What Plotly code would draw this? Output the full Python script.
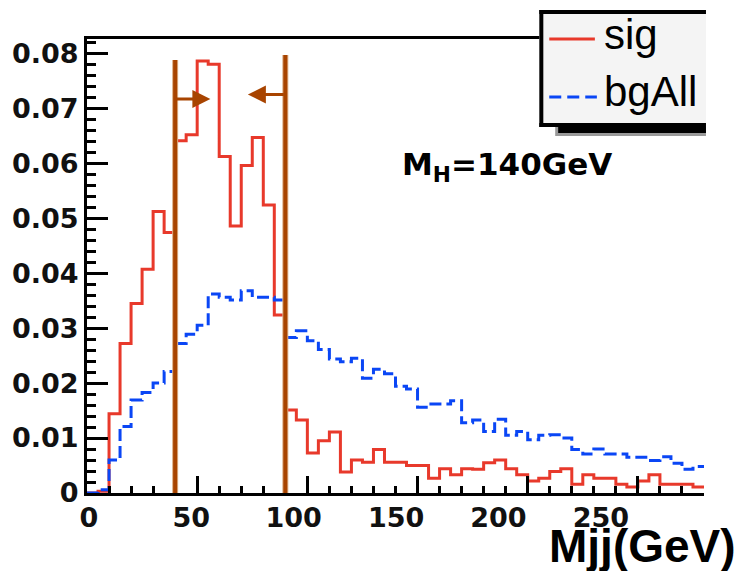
import plotly.graph_objects as go

# ---- data (bin width 5 GeV, 0..280) ----
bin_edges = [5 * i for i in range(57)]
sig = [0.0, 0.0003, 0.0144, 0.0272, 0.0345, 0.0407, 0.0512, 0.0474,
       0.0641, 0.0652, 0.0786, 0.0780, 0.0612, 0.0486, 0.0596, 0.0647,
       0.0524, 0.0324, 0.0151, 0.0133, 0.0073, 0.0095, 0.0111, 0.0038,
       0.0060, 0.0056, 0.0079, 0.0056, 0.0056, 0.0050, 0.0050, 0.0027,
       0.0044, 0.0033, 0.0044, 0.0043, 0.0055, 0.0060, 0.0044, 0.0033,
       0.0022, 0.0027, 0.0039, 0.0044, 0.0016, 0.0033, 0.0027, 0.0027,
       0.0016, 0.0011, 0.0022, 0.0033, 0.0016, 0.0016, 0.0016, 0.0011]
bgAll = [0.0, 0.0006, 0.0060, 0.0121, 0.0169, 0.0183, 0.0200, 0.0221,
         0.0272, 0.0289, 0.0305, 0.0362, 0.0356, 0.0351, 0.0368, 0.0356,
         0.0356, 0.0351, 0.0283, 0.0295, 0.0277, 0.0261, 0.0244, 0.0239,
         0.0245, 0.0209, 0.0225, 0.0217, 0.0194, 0.0189, 0.0156, 0.0162,
         0.0162, 0.0168, 0.0128, 0.0133, 0.0112, 0.0134, 0.0105, 0.0112,
         0.0097, 0.0105, 0.0106, 0.0100, 0.0079, 0.0071, 0.0080, 0.0071,
         0.0071, 0.0065, 0.0065, 0.0059, 0.0066, 0.0054, 0.0043, 0.0048]
cut_x = [40, 90]
cut_top = [0.0788, 0.0797]
arrow_y = [0.0717, 0.0725]
arrow_tip = [56, 73]
x_ticks = [0, 50, 100, 150, 200, 250]
y_ticks = [0, 0.01, 0.02, 0.03, 0.04, 0.05, 0.06, 0.07, 0.08]

RED = '#e8392b'
BLUE = '#0a46f5'
BROWN = '#a84400'

# plot-area pixel geometry
L, R, T, B = 82, 704, 39, 493
W, H = 740, 571


def px(xp):
    return (xp - L) / (R - L)


def py(yp):
    return (B - yp) / (B - T)


fig = go.Figure()
fig.add_trace(go.Scatter(x=bin_edges, y=sig + [sig[-1]], mode='lines',
                         line=dict(color=RED, width=3, shape='hv'),
                         name='sig', showlegend=False))
fig.add_trace(go.Scatter(x=bin_edges, y=bgAll + [bgAll[-1]], mode='lines',
                         line=dict(color=BLUE, width=3, shape='hv', dash='12px,5px'),
                         name='bgAll', showlegend=False))
# invisible carrier for the (slightly compressed) tick-label scale of the original
fig.add_trace(go.Scatter(x=x_ticks, y=[0] * len(x_ticks), xaxis='x2', mode='markers',
                         marker=dict(opacity=0), hoverinfo='skip', showlegend=False))

shapes = []
for cx, ct in zip(cut_x, cut_top):
    shapes.append(dict(type='line', xref='x', yref='y', x0=cx, x1=cx, y0=0, y1=ct,
                       line=dict(color='#dcae84', width=6)))
    shapes.append(dict(type='line', xref='x', yref='y', x0=cx, x1=cx, y0=0, y1=ct,
                       line=dict(color=BROWN, width=4)))

# legend box (ROOT style with shadow)
shapes += [
    dict(type='rect', xref='paper', yref='paper', x0=px(554), x1=px(706),
         y0=py(136), y1=py(125), fillcolor='#999999', line=dict(width=0)),
    dict(type='rect', xref='paper', yref='paper', x0=px(557), x1=px(706),
         y0=py(133), y1=py(125), fillcolor='black', line=dict(width=0)),
    dict(type='rect', xref='paper', yref='paper', x0=px(538), x1=px(706),
         y0=py(127), y1=py(10), fillcolor='#f4f4f4', line=dict(width=0)),
    dict(type='line', xref='paper', yref='paper', x0=px(540), x1=px(540),
         y0=py(127), y1=py(10), line=dict(color='black', width=4)),
    dict(type='line', xref='paper', yref='paper', x0=px(538), x1=px(706),
         y0=py(12), y1=py(12), line=dict(color='black', width=4)),
    dict(type='line', xref='paper', yref='paper', x0=px(538), x1=px(706),
         y0=py(125), y1=py(125), line=dict(color='black', width=4)),
    dict(type='line', xref='paper', yref='paper', x0=px(548), x1=px(594),
         y0=py(39), y1=py(39), line=dict(color=RED, width=3)),
    dict(type='line', xref='paper', yref='paper', x0=px(548), x1=px(596),
         y0=py(97), y1=py(97), line=dict(color=BLUE, width=3, dash='12px,6px')),
]

annotations = []
for cx, ay_, tip in zip(cut_x, arrow_y, arrow_tip):
    annotations.append(dict(x=tip, y=ay_, ax=cx, ay=ay_, xref='x', yref='y',
                            axref='x', ayref='y', text='', showarrow=True,
                            arrowhead=2, arrowsize=1.2, arrowwidth=3,
                            arrowcolor=BROWN, standoff=0, startstandoff=0))
annotations += [
    dict(xref='paper', yref='paper', x=px(601), y=py(34), text='sig',
         showarrow=False, xanchor='left', yanchor='middle',
         font=dict(family='Liberation Sans', size=42, color='black')),
    dict(xref='paper', yref='paper', x=px(601), y=py(91), text='bgAll',
         showarrow=False, xanchor='left', yanchor='middle',
         font=dict(family='Liberation Sans', size=42, color='black')),
    dict(xref='paper', yref='paper', x=px(505), y=py(166),
         text='M<sub>H</sub>=140GeV', showarrow=False,
         xanchor='center', yanchor='middle',
         font=dict(family='DejaVu Sans', size=31, color='black', weight='bold')),
    dict(xref='paper', yref='paper', x=px(738), y=py(546),
         text='Mjj(GeV)', showarrow=False, xanchor='right', yanchor='middle',
         font=dict(family='Liberation Sans', size=46, color='black', weight='bold')),
]

tickfont = dict(family='DejaVu Sans', size=27, color='#111111', weight='bold')
# label scale: label "0" centred at px 85, "250" at px 600
lab_ppu = (600 - 84) / 250.0
lab_x0 = -(84 - L) / lab_ppu
lab_x1 = lab_x0 + (R - L) / lab_ppu

fig.update_layout(
    width=W, height=H, autosize=False,
    margin=dict(l=L, r=W - R, t=T, b=H - B, pad=0),
    plot_bgcolor='white', paper_bgcolor='white',
    shapes=shapes, annotations=annotations, showlegend=False,
    xaxis=dict(range=[0, 280], showline=True, linewidth=3, linecolor='black',
               mirror=True, ticks='inside', ticklen=17, tickwidth=3,
               tickcolor='black', tickvals=x_ticks, showticklabels=False,
               showgrid=False, zeroline=False,
               minor=dict(ticks='inside', ticklen=7, tickwidth=3, dtick=10,
                          tickcolor='black', showgrid=False)),
    xaxis2=dict(range=[lab_x0, lab_x1], overlaying='x', side='bottom',
                anchor='y', showline=False, ticks='', tickvals=x_ticks,
                showgrid=False, zeroline=False, tickfont=tickfont,
                ticklabelstandoff=6),
    yaxis=dict(range=[0, 0.0826], showline=True, linewidth=3, linecolor='black',
               mirror=False, ticks='inside', ticklen=21, tickwidth=3,
               tickcolor='black', tickvals=y_ticks, showgrid=False, zeroline=False,
               tickfont=tickfont,
               minor=dict(ticks='inside', ticklen=9, tickwidth=3, dtick=0.002,
                          tickcolor='black', showgrid=False)),
)
fig.write_html('out.html',
               config={'displayModeBar': False},
               post_script="document.body.style.margin='0px';"
                           "document.body.style.overflow='hidden';")
